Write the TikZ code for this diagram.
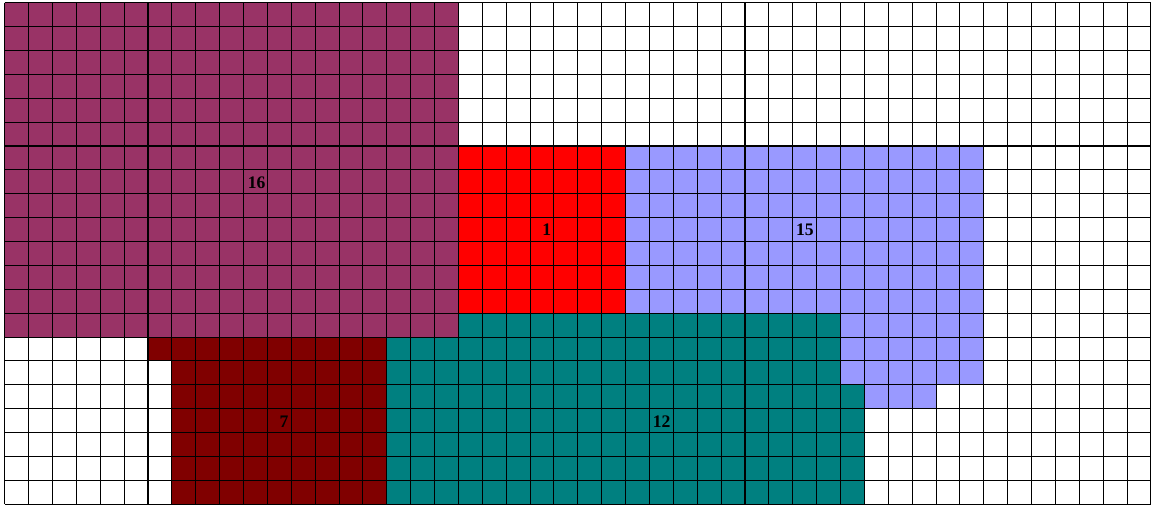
\documentclass[tikz,border=0pt]{standalone}
\usepackage{fontspec}
\setmainfont{Liberation Serif}
\definecolor{cPurple}{HTML}{993366}
\definecolor{cRed}{HTML}{FF0000}
\definecolor{cBlue}{HTML}{9999FF}
\definecolor{cTeal}{HTML}{008080}
\definecolor{cMaroon}{HTML}{800000}
\begin{document}
\begin{tikzpicture}[x=0.5cm,y=-0.5cm,
  gridline/.style={line width=0.62pt,black},
  lbl/.style={font=\fontsize{10.5}{12}\selectfont\bfseries,inner sep=0pt,text=black}]
\useasboundingbox (-0.197,-0.113) rectangle (48.044,21.034);
% regions
\fill[cPurple] (0,0) rectangle (19,14);
\fill[cRed] (19,6) rectangle (26,13);
\fill[cBlue] (26,6) -- (41,6) -- (41,16) -- (39,16) -- (39,17) -- (36,17) -- (36,16) -- (35,16) -- (35,13) -- (26,13) -- cycle;
\fill[cTeal] (19,13) -- (35,13) -- (35,16) -- (36,16) -- (36,21) -- (16,21) -- (16,14) -- (19,14) -- cycle;
\fill[cMaroon] (6,14) -- (16,14) -- (16,21) -- (7,21) -- (7,15) -- (6,15) -- cycle;
% grid
\foreach \i in {0,...,48} \draw[gridline] (\i,0) -- (\i,21);
\foreach \j in {0,...,21} \draw[gridline] (0,\j) -- (48,\j);
% labels
\node[lbl] (l16) at (10.55,7.52) {16};
\node[lbl] (l1) at (22.70,9.52) {1};
\node[lbl] (l15) at (33.51,9.52) {15};
\node[lbl] (l7) at (11.70,17.56) {7};
\node[lbl] (l12) at (27.51,17.56) {12};
\end{tikzpicture}
\end{document}
